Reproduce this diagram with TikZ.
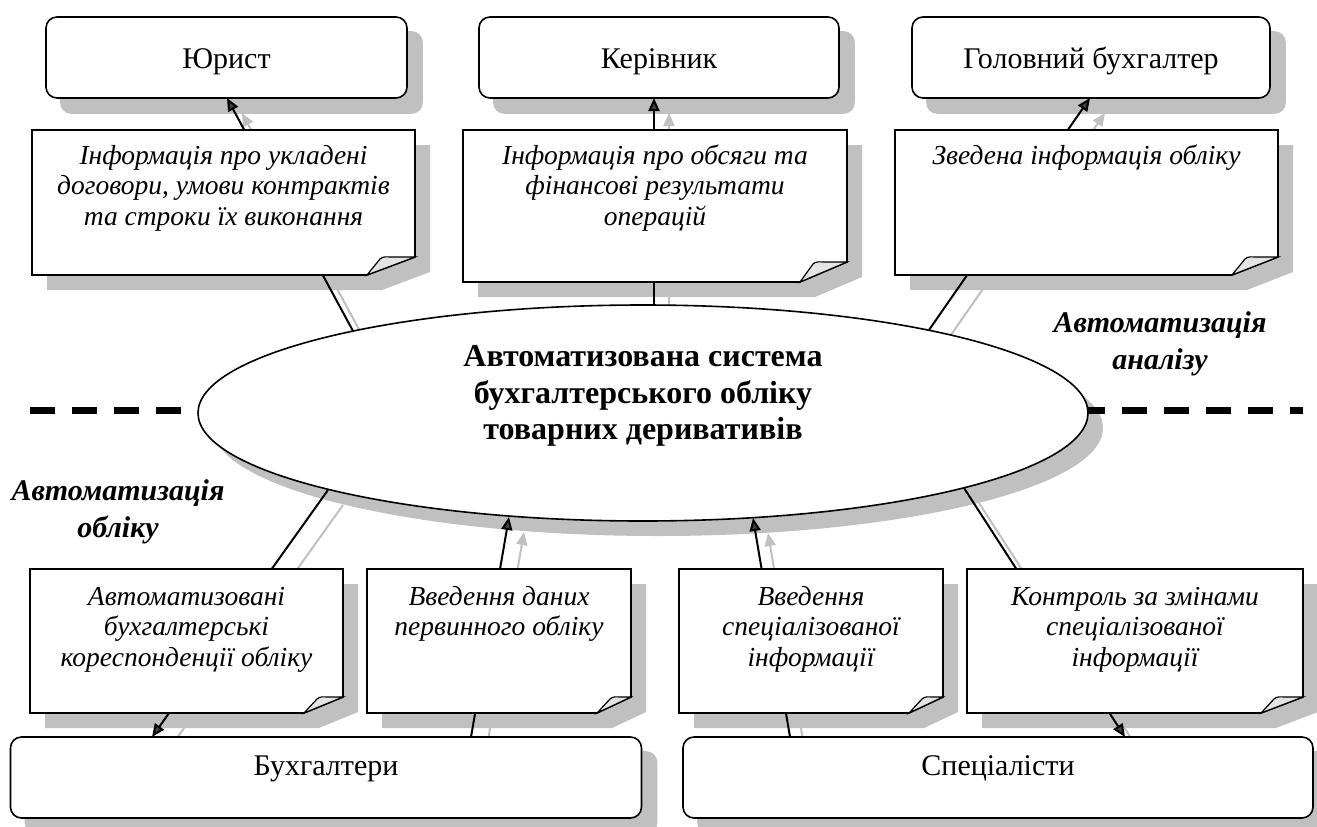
\documentclass[tikz,border=0pt]{standalone}
\usepackage{fontspec}
\setmainfont{Liberation Serif}
\usetikzlibrary{arrows.meta,shapes.geometric}
\definecolor{shadowgray}{RGB}{192,192,192}
\definecolor{tipgray}{RGB}{64,64,64}
\definecolor{foldgray}{RGB}{228,228,228}
\pgfdeclarelayer{shadows}
\pgfdeclarelayer{links}
\pgfsetlayers{shadows,links,main}
\newcommand\notepoly[6]{(#1,#2) -- (#3,#2) -- (#3,#4-#6) -- (#3-#5,#4) -- (#1,#4) -- cycle}
\newcommand\noteflap[6]{(#3-#5,#4) -- (#3-#5+13,#4-#6+2) .. controls (#3-#5+16,#4-#6-1) and (#3-#5+20,#4-#6) .. (#3-#5+25,#4-#6) -- (#3,#4-#6) -- cycle}
\begin{document}
\begin{tikzpicture}[x=1pt,y=-1pt,
  titlebox/.style={draw=black, line width=1.6pt, fill=white, rounded corners=11pt, inner sep=0pt,
    font=\fontsize{30}{34}\selectfont},
  topbox/.style={titlebox, minimum height=81pt, text height=21pt, text depth=0pt},
  lowbox/.style={titlebox, minimum height=81pt, text height=10pt, text depth=15pt},
  notebody/.style={draw=black, line width=1.6pt, fill=white},
  flap/.style={draw=black, line width=1.2pt, fill=foldgray},
  notetext/.style={font=\itshape\fontsize{27.5}{30.5}\selectfont, align=center, inner sep=0pt, anchor=north},
  conn/.style={line width=2pt, draw=black, -{Triangle[length=13pt,width=11pt,fill=tipgray]}},
  shconn/.style={line width=2pt, draw=shadowgray, -{Triangle[length=13pt,width=11pt,fill=shadowgray]}},
  separator/.style={line width=7pt, dash pattern=on 25pt off 17pt},
  areatitle/.style={font=\bfseries\itshape\fontsize{30}{37}\selectfont, align=center, inner sep=0pt, anchor=north},
  sysnode/.style={draw=black, line width=1.6pt, fill=white, ellipse, inner sep=0pt,
    minimum width=890pt, minimum height=216pt},
  systext/.style={font=\bfseries\fontsize{32}{36.5}\selectfont, align=center, inner sep=0pt, anchor=north},
  shadowfill/.style={fill=shadowgray, draw=none},
]
\useasboundingbox (0,0) rectangle (1317,827);

% ---------- boxes ----------
\node[topbox, minimum width=361pt] (jur) at (226.5,57.5) {Юрист};
\node[topbox, minimum width=360pt] (ker) at (659,57.5) {Керівник};
\node[topbox, minimum width=358pt] (hol) at (1091,57.5) {Головний бухгалтер};
\node[lowbox, minimum width=631pt] (buh) at (326,777.5) {Бухгалтери};
\node[lowbox, minimum width=630pt] (spe) at (998,777.5) {Спеціалісти};

% ---------- notes ----------
\draw[notebody] \notepoly{32}{130}{415}{275}{48}{18};
\draw[flap] \noteflap{32}{130}{415}{275}{48}{18};
\draw[notebody] \notepoly{463}{130}{847}{282}{47}{20};
\draw[flap] \noteflap{463}{130}{847}{282}{47}{20};
\draw[notebody] \notepoly{895}{130}{1278}{275}{46}{18};
\draw[flap] \noteflap{895}{130}{1278}{275}{46}{18};
\draw[notebody] \notepoly{30}{569}{343}{713}{39}{16};
\draw[flap] \noteflap{30}{569}{343}{713}{39}{16};
\draw[notebody] \notepoly{367}{569}{631}{713}{34}{16};
\draw[flap] \noteflap{367}{569}{631}{713}{34}{16};
\draw[notebody] \notepoly{679}{569}{943}{713}{34}{16};
\draw[flap] \noteflap{679}{569}{943}{713}{34}{16};
\draw[notebody] \notepoly{967}{569}{1303}{713}{42}{16};
\draw[flap] \noteflap{967}{569}{1303}{713}{42}{16};

\node[notetext] (t1) at (223.5,142.5) {\strut Інформація про укладені\\договори, умови контрактів\\та строки їх виконання};
\node[notetext] (t2) at (655,142.5) {\strut Інформація про обсяги та\\фінансові результати\\операцій};
\node[notetext] (t3) at (1086.5,142.5) {\strut Зведена інформація обліку};
\node[notetext] (t4) at (186.5,583.5) {\strut Автоматизовані\\бухгалтерські\\кореспонденції обліку};
\node[notetext] (t5) at (499,583.5) {\strut Введення даних\\первинного обліку};
\node[notetext] (t6) at (811,583.5) {\strut Введення\\спеціалізованої\\інформації};
\node[notetext] (t7) at (1135,583.5) {\strut Контроль за змінами\\спеціалізованої\\інформації};

% ---------- central system ----------
\node[sysnode] (ell) at (643,413) {};
\node[systext] (st) at (643,341) {\strut Автоматизована система\\бухгалтерського обліку\\товарних деривативів};

% ---------- area titles ----------
\node[areatitle] (ta) at (1160,306) {\strut Автоматизація\\аналізу};
\node[areatitle] (tb) at (118,474) {\strut Автоматизація\\обліку};

% ---------- connector end points ----------
\coordinate (e1) at (353,331);  \coordinate (b1) at (227,98);
\coordinate (e2) at (654,305);  \coordinate (b2) at (654,98);
\coordinate (e3) at (929,330);  \coordinate (b3) at (1090,98);
\coordinate (e4) at (328,490);  \coordinate (b4) at (152,737);
\coordinate (e5) at (509,517);  \coordinate (b5) at (471,737);
\coordinate (e6) at (753,518);  \coordinate (b6) at (790,737);
\coordinate (e7) at (964,488);  \coordinate (b7) at (1125,737);

% ---------- shadows ----------
\begin{pgfonlayer}{shadows}
  \foreach \n in {jur,ker,hol,buh,spe}{
    \fill[shadowfill, rounded corners=11pt] ([shift={(15,15)}]\n.north west) rectangle ([shift={(15,15)}]\n.south east);
  }
  \fill[shadowfill, shift={(15,15)}] \notepoly{32}{130}{415}{275}{48}{18};
  \fill[shadowfill, shift={(15,15)}] \notepoly{463}{130}{847}{282}{47}{20};
  \fill[shadowfill, shift={(15,15)}] \notepoly{895}{130}{1278}{275}{46}{18};
  \fill[shadowfill, shift={(15,15)}] \notepoly{30}{569}{343}{713}{39}{16};
  \fill[shadowfill, shift={(15,15)}] \notepoly{367}{569}{631}{713}{34}{16};
  \fill[shadowfill, shift={(15,15)}] \notepoly{679}{569}{943}{713}{34}{16};
  \fill[shadowfill, shift={(15,15)}] \notepoly{967}{569}{1303}{713}{42}{16};
  \fill[shadowfill] ([shift={(15,15)}]ell.center) ellipse [x radius=445, y radius=108];
\end{pgfonlayer}

% ---------- links ----------
\begin{pgfonlayer}{links}
  \draw[separator] (30,410) -- (1303,410);
  \foreach \a/\b in {e1/b1,e2/b2,e3/b3,e4/b4,b5/e5,b6/e6,e7/b7}{
    \draw[shconn] ([shift={(15,15)}]\a) -- ([shift={(15,15)}]\b);
  }
  \draw[conn] (e1) -- (b1);
  \draw[conn] (e2) -- (b2);
  \draw[conn] (e3) -- (b3);
  \draw[conn] (e4) -- (b4);
  \draw[conn] (b5) -- (e5);
  \draw[conn] (b6) -- (e6);
  \draw[conn] (e7) -- (b7);
\end{pgfonlayer}
\end{tikzpicture}
\end{document}
